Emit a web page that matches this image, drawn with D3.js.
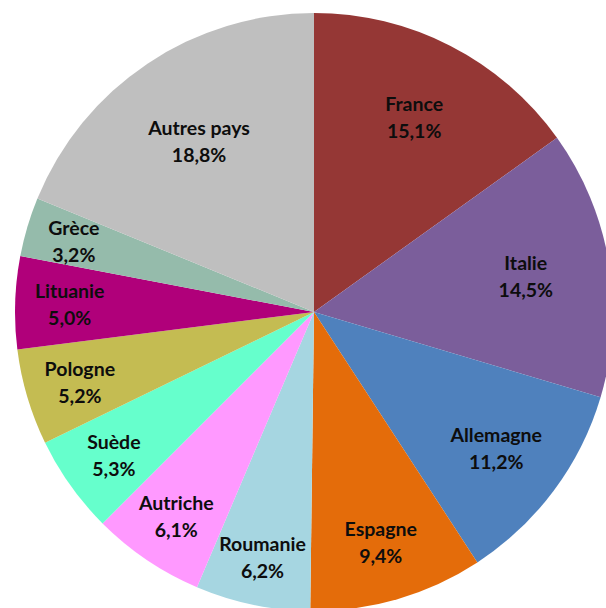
<!DOCTYPE html>
<html>
<head>
<meta charset="utf-8">
<script src="https://cdn.jsdelivr.net/npm/d3@7"></script>
<style>
    body { margin: 0; background: #fff; }
    svg { display: block; }
</style>
</head>
<body>
<div id="chart"></div>
<script>
// shares per country, clockwise from 12 o'clock
const countries = ["France", "Italie", "Allemagne", "Espagne", "Roumanie", "Autriche", "Suède", "Pologne", "Lituanie", "Grèce", "Autres pays"]
const shares = [15.1, 14.5, 11.2, 9.4, 6.2, 6.1, 5.3, 5.2, 5.0, 3.2, 18.8]
const sliceColors = ["#953735", "#7b5e9b", "#4f81bd", "#e46c0a", "#a6d6e1", "#ff99ff", "#66ffcc", "#c4bc52", "#b0007a", "#95bbab", "#bfbfbf"]

const width = 606, height = 608
const cx = 314, cy = 312, radius = 299

const data = countries.map((c, i) => ({ name: c, value: shares[i], color: sliceColors[i] }))
const total = d3.sum(shares)

const svg = d3.select("#chart")
    .append("svg")
    .attr("width", width)
    .attr("height", height)
    .append("g")
    .attr("transform", "translate(" + cx + "," + cy + ")")

const pie = d3.pie()
    .sort(null)
    .value(d => d.value)

const arc = d3.arc()
    .innerRadius(0)
    .outerRadius(radius)

const arcs = pie(data)

// slices
svg.append("g")
    .selectAll("path")
    .data(arcs)
    .enter()
    .append("path")
    .attr("fill", d => d.data.color)
    .attr("d", arc)

// labels sit further out on the thin slices, nearer the middle on the big ones
function labelPos(d) {
    const mid = (d.startAngle + d.endAngle) / 2
    const r = radius * (0.87 - 1.05 * d.data.value / total + 0.04 * (1 - Math.abs(Math.sin(mid))))
    return [Math.sin(mid) * r, -Math.cos(mid) * r]
}

const fmt = v => v.toFixed(1).replace(".", ",") + "%"

const labels = svg.append("g")
    .selectAll("g")
    .data(arcs)
    .enter()
    .append("g")
    .attr("transform", d => "translate(" + labelPos(d) + ")")
    .attr("text-anchor", "middle")
    .style("font-family", "Lato, 'Open Sans', sans-serif")
    .style("font-size", "19.5px")
    .style("font-weight", "700")
    .style("fill", "#0d0d0d")

labels.append("text")
    .attr("y", -13.5)
    .attr("dominant-baseline", "central")
    .text(d => d.data.name)

labels.append("text")
    .attr("y", 13.5)
    .attr("dominant-baseline", "central")
    .text(d => fmt(d.data.value))
</script>
</body>
</html>
